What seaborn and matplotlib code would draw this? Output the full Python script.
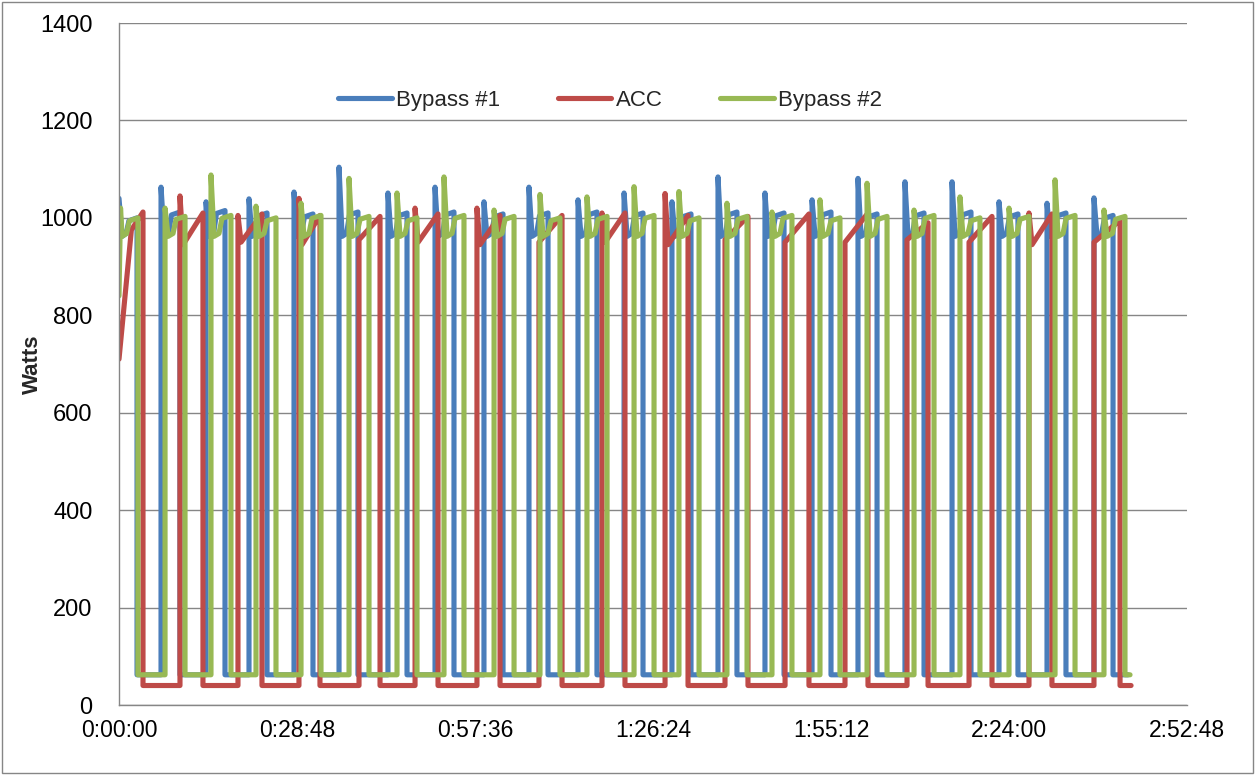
import numpy as np
import pandas as pd
import matplotlib
matplotlib.use("Agg")
import matplotlib.pyplot as plt
import seaborn as sns
from matplotlib.lines import Line2D
from matplotlib.patches import Rectangle

# ---------------- data (times in seconds from start, values in Watts) -------------
series_names = ["Bypass #1", "ACC", "Bypass #2"]
series_colors = ["#4A7EBB", "#BE4B48", "#98B954"]

xtick_seconds = [0, 1728, 3456, 5184, 6912, 8640, 10368]
xtick_labels = ["0:00:00", "0:28:48", "0:57:36", "1:26:24", "1:55:12", "2:24:00", "2:52:48"]
ytick_values = [0, 200, 400, 600, 800, 1000, 1200, 1400]

# Bypass #1
bp1_rise = [408, 845, 1262, 1699, 2136, 2611, 3068, 3543, 3980, 4456, 4903, 5368,
            5815, 6271, 6728, 7174, 7630, 8087, 8543, 9009, 9465]
bp1_fall = [175, 592, 1029, 1437, 1883, 2320, 2796, 3252, 3728, 4165, 4640, 5087,
            5553, 5999, 6456, 6912, 7359, 7815, 8271, 8727, 9193, 9650]
bp1_peak = [1040, 1063, 1033, 1039, 1053, 1104, 1051, 1063, 1033, 1063, 1037, 1051,
            1033, 1084, 1051, 1037, 1081, 1074, 1074, 1033, 1030, 1041]
bp1_end = [1000, 1012, 1015, 1010, 1008, 1012, 1010, 1012, 1008, 1010, 1012, 1010,
           1008, 1012, 1010, 1012, 1008, 1010, 1012, 1008, 1010, 1005]
bp1_off = 62
bp1_last = 9795

# ACC
acc_rise = [592, 1155, 1747, 2330, 2874, 3475, 4077, 4689, 5301, 5883, 6466, 7048,
            7650, 8252, 8834, 9465]
acc_fall = [233, 815, 1388, 1951, 2534, 3097, 3699, 4301, 4912, 5524, 6106, 6698,
            7271, 7854, 8475, 9057, 9718]
acc_peak = [np.nan, 1045, 1005, 1040, np.nan, 1020, 1020, np.nan, 1010, 1050, np.nan,
            np.nan, np.nan, np.nan, np.nan, 1010, np.nan]
acc_start = [710, 945, 950, 945, 955, 950, 945, 950, 950, 945, 955, 950, 950, 955,
             950, 945, 950]
acc_end = [1012, 1010, 1008, 1005, 1003, 1008, 1005, 1005, 1010, 1005, 1003, 1008,
           1010, 990, 1003, 1008, 995]
acc_off = 40
acc_last = 9825

# Bypass #2
bp2_rise = [447, 893, 1330, 1767, 2233, 2699, 3155, 3641, 4087, 4543, 5000, 5436,
            5902, 6339, 6805, 7262, 7718, 8164, 8640, 9087, 9562]
bp2_fall = [184, 641, 1087, 1524, 1961, 2427, 2893, 3349, 3835, 4281, 4738, 5194,
            5631, 6097, 6533, 6999, 7456, 7912, 8358, 8834, 9281, 9766]
bp2_peak = [1020, 1020, 1088, 1024, 1030, 1081, 1051, 1084, 1016, 1048, 1043, 1064,
            1054, 1030, 1012, 1037, 1071, 1016, 1043, 1020, 1078, 1016]
bp2_end = [1000, 1003, 1005, 1000, 1005, 1003, 1000, 1005, 1003, 1000, 1003, 1005,
           1000, 1003, 1005, 1000, 1003, 1005, 1000, 1003, 1005, 1003]
bp2_start0 = 840
bp2_off = 62
bp2_last = 9815


def build_bypass(rise, fall, peak, end, off, last, start0=None):
    starts = [0] + list(rise)
    t, w = [], []
    for i, (a, b) in enumerate(zip(starts, fall)):
        d = b - a
        if i == 0:
            if start0 is not None:
                t += [a]; w += [start0]
                t += [a + 15]; w += [peak[i]]
            else:
                t += [a]; w += [peak[i]]
        else:
            t += [a, a]; w += [off, peak[i]]
        t += [a + 30, a + 0.4 * d, a + 0.55 * d, b, b]
        w += [962, 968, end[i] - 6, end[i], off]
    t += [last]; w += [off]
    return t, w


def build_acc(rise, fall, peak, start, end, off, last):
    starts = [0] + list(rise)
    t, w = [], []
    for i, (a, b) in enumerate(zip(starts, fall)):
        if i == 0:
            t += [a, a + 120]; w += [start[i], 975]
        else:
            t += [a]; w += [off]
            if not np.isnan(peak[i]):
                t += [a, a + 30]; w += [peak[i], start[i]]
            else:
                t += [a]; w += [start[i]]
        t += [b, b]; w += [end[i], off]
    t += [last]; w += [off]
    return t, w


parts = []
for name, (t, w) in zip(series_names, [
        build_bypass(bp1_rise, bp1_fall, bp1_peak, bp1_end, bp1_off, bp1_last),
        build_acc(acc_rise, acc_fall, acc_peak, acc_start, acc_end, acc_off, acc_last),
        build_bypass(bp2_rise, bp2_fall, bp2_peak, bp2_end, bp2_off, bp2_last, bp2_start0)]):
    parts.append(pd.DataFrame({"t": t, "w": w, "series": name}))
df = pd.concat(parts, ignore_index=True)

# ---------------- plot ----------------
sns.set_style("white")
plt.rcParams["font.family"] = ["Liberation Sans", "DejaVu Sans"]

W, H = 1255, 775
fig = plt.figure(figsize=(W / 100, H / 100), dpi=100)
ax = fig.add_axes([119 / W, 1 - 705 / H, (1187 - 119) / W, (705 - 23) / H])

sns.lineplot(data=df, x="t", y="w", hue="series", hue_order=series_names,
             palette=dict(zip(series_names, series_colors)), sort=False,
             estimator=None, linewidth=3.7, legend=False, ax=ax,
             solid_joinstyle="round", solid_capstyle="round")

ax.set_xlim(0, 10368)
ax.set_ylim(0, 1400)
ax.set_xticks(xtick_seconds)
ax.set_xticklabels(xtick_labels)
ax.set_yticks(ytick_values)
ax.set_yticklabels([str(v) for v in ytick_values])
ax.yaxis.grid(True, color="#868686", linewidth=1)
ax.xaxis.grid(False)
ax.set_axisbelow(True)
for s in ["top", "right"]:
    ax.spines[s].set_visible(False)
for s in ["left", "bottom"]:
    ax.spines[s].set_color("#868686")
    ax.spines[s].set_linewidth(1)
ax.tick_params(axis="both", which="major", direction="out", length=5,
               color="#868686", labelsize=17, labelcolor="black")
ax.tick_params(axis="x", pad=5, labelsize=16.5)
ax.tick_params(axis="y", pad=14)
ax.set_xlabel("")
ax.set_ylabel("Watts", fontsize=16, fontweight="bold", labelpad=-2)

handles = [Line2D([0], [0], color=c, lw=3.7, solid_capstyle="round") for c in series_colors]
ax.legend(handles, series_names, loc="center", bbox_to_anchor=(0.46, 0.887), ncol=3,
          frameon=False, fontsize=16, handlelength=2.4, handletextpad=0.2,
          columnspacing=2.6)

fig.patches.append(Rectangle((0.0015, 0.003), 0.997, 0.994, transform=fig.transFigure,
                             fill=False, edgecolor="#868686", linewidth=1))

fig.savefig("out.png", dpi=100)
